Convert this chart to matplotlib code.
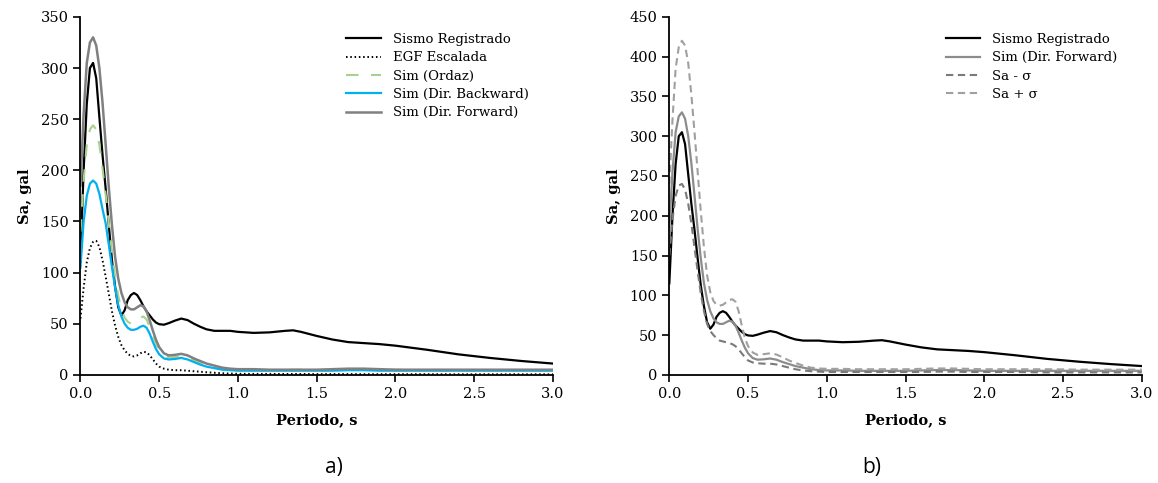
import matplotlib.pyplot as plt

plt.rcParams["font.family"] = ["DejaVu Serif"]

# periods (s)
T = [0.0, 0.02, 0.04, 0.06, 0.08, 0.10, 0.12, 0.14, 0.16, 0.18, 0.20, 0.22,
     0.24, 0.26, 0.28, 0.30, 0.32, 0.34, 0.36, 0.38, 0.40, 0.42, 0.44, 0.46,
     0.48, 0.50, 0.53, 0.56, 0.60, 0.64, 0.68, 0.72, 0.76, 0.80, 0.85, 0.90,
     0.95, 1.0, 1.1, 1.2, 1.3, 1.35, 1.4, 1.5, 1.6, 1.7, 1.8, 1.9, 2.0, 2.2,
     2.4, 2.6, 2.8, 3.0]

sismo = [115, 200, 265, 300, 305, 290, 252, 215, 182, 146, 112, 86,
         66, 58, 63, 73, 78, 80, 78, 73, 67, 62, 58, 54,
         51, 49.5, 49, 50.5, 53, 55, 53.5, 50, 47, 44.5, 43, 43,
         43, 42, 41, 41.5, 43, 43.5, 42, 38, 34.5, 32, 31, 30, 28.5, 24.5,
         20, 16.5, 13.5, 11]

egf = [55, 85, 110, 124, 130, 131, 125, 112, 96, 79, 62, 48,
       37, 29, 24, 20.5, 18.5, 18, 19, 21, 22.5, 22, 19, 15,
       11, 8, 6, 5, 4.5, 4.5, 4, 3.5, 3, 2.5, 2, 1.5,
       1.2, 1, 0.9, 0.9, 0.8, 0.8, 0.8, 0.7, 0.7, 0.7, 0.6, 0.6, 0.6, 0.6,
       0.5, 0.5, 0.5, 0.5]

ordaz = [140, 190, 225, 240, 244, 240, 225, 202, 176, 148, 120, 96,
         77, 64, 56, 52, 50, 51, 53, 56, 57, 54, 47, 38,
         30, 24, 19, 17, 17.5, 18, 17, 14.5, 12, 10, 8, 6,
         5, 5, 4.5, 4.5, 5, 5, 5, 4.5, 5, 5.5, 5.5, 5, 5, 4.5,
         4.5, 4.5, 4.5, 4.5]

backward = [105, 150, 175, 187, 190, 187, 177, 162, 148, 127, 105, 85,
            68, 57, 50, 46, 44, 44, 45, 47, 48, 46, 40, 32,
            25, 20, 16, 15, 15.5, 16.5, 15, 12.5, 10, 8, 6.5, 5,
            4.5, 4, 4, 4, 4, 4, 4, 4, 4, 4.5, 4.5, 4, 4, 4,
            4, 4, 4, 4]

forward = [185, 255, 305, 325, 330, 322, 300, 266, 225, 183, 146, 115,
           94, 80, 71, 66, 64, 64, 66, 68, 67, 62, 53, 43,
           34, 27, 21, 19, 19.5, 20.5, 19, 16, 13.5, 11, 9, 7,
           6, 5.5, 5.5, 5, 5, 5, 5, 5, 5.5, 6, 6, 5.5, 5, 5,
           5, 5, 5, 5]

sa_minus = [150, 195, 225, 238, 240, 233, 215, 190, 160, 130, 102, 80,
            64, 55, 50, 46, 43, 42, 41, 40, 38.5, 36, 32, 27,
            22, 18, 15.5, 14.5, 14, 14, 13, 11, 9, 7, 5.5, 4.5,
            4, 3.5, 3.5, 3.5, 3.5, 3.5, 3.5, 3.5, 3.5, 4, 4, 3.5, 3.5, 3.5,
            3, 3, 3, 3]

sa_plus = [240, 320, 385, 412, 420, 414, 392, 352, 305, 255, 205, 160,
           125, 104, 93, 88, 87, 88, 91, 94, 95, 92, 80, 62,
           46, 36, 28, 25, 26, 27, 25.5, 22, 18, 15, 11.5, 9,
           8, 7.5, 7.5, 7, 7, 7, 7, 7, 7.5, 8, 8, 7.5, 7, 7,
           7, 6.5, 6.5, 6.5]

xticks = [0.0, 0.5, 1.0, 1.5, 2.0, 2.5, 3.0]


def style_axes(ax, ymax, ystep):
    ax.set_xlim(0, 3.0)
    ax.set_ylim(0, ymax)
    ax.set_xticks(xticks)
    ax.set_xticklabels([f"{v:.1f}" for v in xticks])
    ax.set_yticks(range(0, ymax + 1, ystep))
    ax.spines["top"].set_visible(False)
    ax.spines["right"].set_visible(False)
    for s in ("left", "bottom"):
        ax.spines[s].set_linewidth(1.3)
    ax.tick_params(direction="out", length=5, width=1.2, labelsize=10.5)
    ax.set_xlabel("Periodo, s", fontweight="bold", fontsize=10.5, labelpad=9)
    ax.set_ylabel("Sa, gal", fontweight="bold", fontsize=10.5, labelpad=6)


def add_legend(ax, x0):
    ax.legend(loc="upper left", bbox_to_anchor=(x0, 0.955), frameon=False,
              fontsize=9.5, handlelength=2.6, handletextpad=0.9,
              labelspacing=0.4, borderaxespad=0, borderpad=0)


fig = plt.figure(figsize=(11.58, 4.83), dpi=100)
ax1 = fig.add_axes([0.0695, 0.224, 0.408, 0.741])
ax2 = fig.add_axes([0.578, 0.224, 0.408, 0.741])

# a)
ax1.plot(T, sismo, color="black", lw=1.6, label="Sismo Registrado")
ax1.plot(T, egf, color="black", lw=1.4, ls=(0, (0.8, 1.4)), label="EGF Escalada")
ax1.plot(T, ordaz, color="#a9d18e", lw=1.5, ls=(0, (6, 6)), label="Sim (Ordaz)")
ax1.plot(T, backward, color="#00b0f0", lw=1.6, label="Sim (Dir. Backward)")
ax1.plot(T, forward, color="#808080", lw=1.8, label="Sim (Dir. Forward)")
style_axes(ax1, 350, 50)
add_legend(ax1, 0.563)

# b)
ax2.plot(T, sismo, color="black", lw=1.6, label="Sismo Registrado")
ax2.plot(T, forward, color="#8c8c8c", lw=1.6, label="Sim (Dir. Forward)")
ax2.plot(T, sa_minus, color="#7a7a7a", lw=1.5, ls=(0, (3.5, 2.2)), label="Sa - σ")
ax2.plot(T, sa_plus, color="#a0a0a0", lw=1.5, ls=(0, (3.5, 2.2)), label="Sa + σ")
style_axes(ax2, 450, 50)
add_legend(ax2, 0.585)

fig.text(0.288, 0.02, "a)", fontsize=15, family="Open Sans", ha="center")
fig.text(0.753, 0.02, "b)", fontsize=15, family="Open Sans", ha="center")

fig.savefig("out.png", dpi=100)
